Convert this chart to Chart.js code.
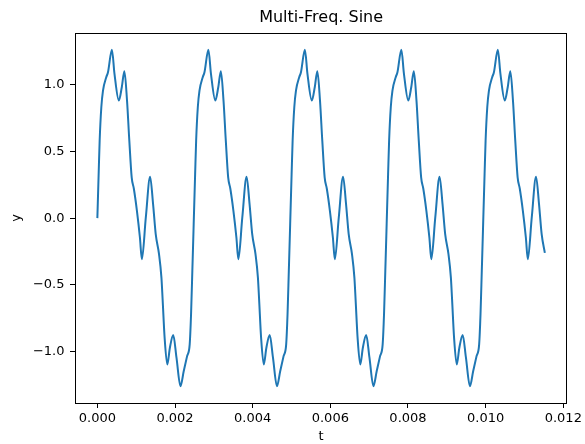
<!DOCTYPE html>
<html>
<head>
<meta charset="utf-8">
<script src="https://cdn.jsdelivr.net/npm/chart.js@4.4.1/dist/chart.umd.min.js"></script>
<style>
  body { margin: 0; background: #fff; }
  #wrap { width: 585px; height: 444px; }
</style>
</head>
<body>
<div id="wrap"><canvas id="chartArea" width="585" height="444"></canvas></div>
<script>
// time (s) and signal
var tValues = [
    0.000000, 0.000033, 0.000059, 0.000102, 0.000145, 0.000229, 0.000272, 0.000375, 0.000441, 0.000553,
    0.000629, 0.000696, 0.000764, 0.000823, 0.000884, 0.000940, 0.001019, 0.001096, 0.001146, 0.001248,
    0.001358, 0.001435, 0.001503, 0.001588, 0.001650, 0.001681, 0.001732, 0.001801, 0.001868, 0.001954,
    0.002038, 0.002140, 0.002225, 0.002311, 0.002378, 0.002413, 0.002446, 0.002476,
    0.002485, 0.002518, 0.002544, 0.002587, 0.002630, 0.002714, 0.002757, 0.002860, 0.002926, 0.003038,
    0.003114, 0.003181, 0.003249, 0.003308, 0.003369, 0.003425, 0.003504, 0.003581, 0.003631, 0.003733,
    0.003843, 0.003920, 0.003988, 0.004073, 0.004135, 0.004166, 0.004217, 0.004286, 0.004353, 0.004439,
    0.004523, 0.004625, 0.004710, 0.004796, 0.004863, 0.004898, 0.004931, 0.004961,
    0.004970, 0.005003, 0.005029, 0.005072, 0.005115, 0.005199, 0.005242, 0.005345, 0.005411, 0.005523,
    0.005599, 0.005666, 0.005734, 0.005793, 0.005854, 0.005910, 0.005989, 0.006066, 0.006116, 0.006218,
    0.006328, 0.006405, 0.006473, 0.006558, 0.006620, 0.006651, 0.006702, 0.006771, 0.006838, 0.006924,
    0.007008, 0.007110, 0.007195, 0.007281, 0.007348, 0.007383, 0.007416, 0.007446,
    0.007455, 0.007488, 0.007514, 0.007557, 0.007600, 0.007684, 0.007727, 0.007830, 0.007896, 0.008008,
    0.008084, 0.008151, 0.008219, 0.008278, 0.008339, 0.008395, 0.008474, 0.008551, 0.008601, 0.008703,
    0.008813, 0.008890, 0.008958, 0.009043, 0.009105, 0.009136, 0.009187, 0.009256, 0.009323, 0.009409,
    0.009493, 0.009595, 0.009680, 0.009766, 0.009833, 0.009868, 0.009901, 0.009931,
    0.009940, 0.009973, 0.009999, 0.010042, 0.010085, 0.010169, 0.010212, 0.010315, 0.010381, 0.010493,
    0.010569, 0.010636, 0.010704, 0.010763, 0.010824, 0.010880, 0.010959, 0.011036, 0.011086, 0.011188,
    0.011298, 0.011375, 0.011443, 0.011525
];
var yValues = [
    0, 0.33, 0.58, 0.83, 0.955, 1.055, 1.09, 1.26, 1.08, 0.88,
    0.98, 1.10, 0.88, 0.58, 0.305, 0.22, 0.055, -0.145, -0.308, 0.005,
    0.31, 0.105, -0.12, -0.27, -0.445, -0.61, -0.895, -1.095, -0.97, -0.875,
    -1.045, -1.258, -1.145, -1.033, -0.945, -0.72, -0.395, -0.095,
    0, 0.33, 0.58, 0.83, 0.955, 1.055, 1.09, 1.26, 1.08, 0.88,
    0.98, 1.10, 0.88, 0.58, 0.305, 0.22, 0.055, -0.145, -0.308, 0.005,
    0.31, 0.105, -0.12, -0.27, -0.445, -0.61, -0.895, -1.095, -0.97, -0.875,
    -1.045, -1.258, -1.145, -1.033, -0.945, -0.72, -0.395, -0.095,
    0, 0.33, 0.58, 0.83, 0.955, 1.055, 1.09, 1.26, 1.08, 0.88,
    0.98, 1.10, 0.88, 0.58, 0.305, 0.22, 0.055, -0.145, -0.308, 0.005,
    0.31, 0.105, -0.12, -0.27, -0.445, -0.61, -0.895, -1.095, -0.97, -0.875,
    -1.045, -1.258, -1.145, -1.033, -0.945, -0.72, -0.395, -0.095,
    0, 0.33, 0.58, 0.83, 0.955, 1.055, 1.09, 1.26, 1.08, 0.88,
    0.98, 1.10, 0.88, 0.58, 0.305, 0.22, 0.055, -0.145, -0.308, 0.005,
    0.31, 0.105, -0.12, -0.27, -0.445, -0.61, -0.895, -1.095, -0.97, -0.875,
    -1.045, -1.258, -1.145, -1.033, -0.945, -0.72, -0.395, -0.095,
    0, 0.33, 0.58, 0.83, 0.955, 1.055, 1.09, 1.26, 1.08, 0.88,
    0.98, 1.10, 0.88, 0.58, 0.305, 0.22, 0.055, -0.145, -0.308, 0.005,
    0.31, 0.105, -0.12, -0.26
];
var xTicks = [0, 0.002, 0.004, 0.006, 0.008, 0.010, 0.012];
var yTicks = [-1.0, -0.5, 0.0, 0.5, 1.0];
var chartTitle = 'Multi-Freq. Sine';

var points = [];
for (var i = 0; i < tValues.length; i++) {
    points.push({ x: tValues[i], y: yValues[i] });
}

// frame + title, matplotlib style
var framePlugin = {
    id: 'frame',
    afterDraw: function (chart) {
        var c = chart.ctx, a = chart.chartArea;
        c.save();
        c.strokeStyle = '#000';
        c.lineWidth = 1;
        c.strokeRect(Math.round(a.left) + 0.5, Math.round(a.top) + 0.5,
            Math.round(a.right - a.left) - 1, Math.round(a.bottom - a.top));
        c.fillStyle = '#000';
        c.font = '16px "DejaVu Sans"';
        c.textAlign = 'center';
        c.textBaseline = 'alphabetic';
        c.fillText(chartTitle, (a.left + a.right) / 2, 22);
        c.restore();
    }
};

Chart.defaults.font.family = '"DejaVu Sans", sans-serif';
Chart.defaults.color = '#000';

var ctx = document.getElementById('chartArea').getContext('2d');
var myChart = new Chart(ctx, {
    type: 'line',
    data: {
        datasets: [{
            data: points,
            borderColor: '#1f77b4',
            borderWidth: 2,
            pointRadius: 0,
            fill: false,
            cubicInterpolationMode: 'monotone'
        }]
    },
    options: {
        responsive: false,
        animation: false,
        layout: { padding: { left: 0, right: 13, top: 33, bottom: 0 } },
        plugins: {
            legend: { display: false },
            title: { display: false },
            tooltip: { enabled: false }
        },
        scales: {
            x: {
                type: 'linear',
                min: -0.000576,
                max: 0.012101,
                afterFit: function (scale) { scale.height = 41; },
                afterBuildTicks: function (scale) {
                    scale.ticks = xTicks.map(function (v) { return { value: v }; });
                },
                border: { display: false },
                grid: { drawOnChartArea: false, drawTicks: true, tickLength: 5, tickColor: '#000', lineWidth: 1 },
                ticks: {
                    font: { size: 13 },
                    color: '#000',
                    padding: 3,
                    maxRotation: 0,
                    callback: function (v) { return v.toFixed(3); }
                },
                title: { display: true, text: 't', font: { size: 13 }, color: '#000', padding: { top: 0, bottom: 0 } }
            },
            y: {
                type: 'linear',
                min: -1.384,
                max: 1.386,
                afterFit: function (scale) { scale.width = 75; },
                afterBuildTicks: function (scale) {
                    scale.ticks = yTicks.map(function (v) { return { value: v }; });
                },
                border: { display: false },
                grid: { drawOnChartArea: false, drawTicks: true, tickLength: 5, tickColor: '#000', lineWidth: 1 },
                ticks: {
                    font: { size: 13 },
                    color: '#000',
                    padding: 5.5,
                    callback: function (v) {
                        return v < 0 ? '\u2212' + Math.abs(v).toFixed(1) : v.toFixed(1);
                    }
                },
                title: { display: true, text: 'y', font: { size: 13 }, color: '#000', padding: { top: 9, bottom: 0 } }
            }
        }
    },
    plugins: [framePlugin]
});
</script>
</body>
</html>
